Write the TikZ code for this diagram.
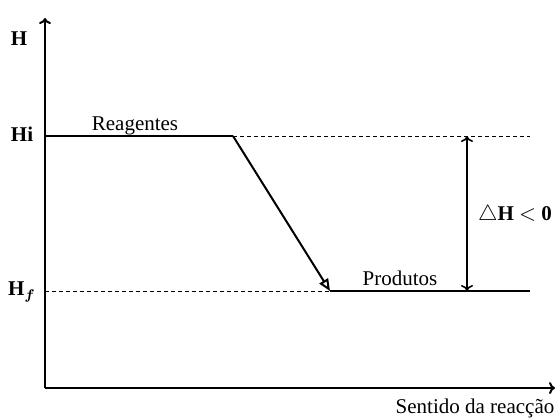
\documentclass[tikz,border=0pt]{standalone}
\usepackage{fontspec}
\setmainfont{Liberation Serif}
\usepackage{amsmath, amssymb}
\usetikzlibrary{arrows.meta, positioning}

\begin{document}
\begin{tikzpicture}[
  x=0.5pt, y=-0.5pt,
  axis/.style={line width=0.8pt, -{To[length=3pt, width=6pt, line width=1pt]}},
  level/.style={line width=1.1pt},
  guide/.style={line width=0.4pt, dash pattern=on 2pt off 1.5pt},
  lbl/.style={font=\fontsize{10.5}{12}\selectfont},
  blbl/.style={font=\fontsize{10.5}{12}\selectfont\bfseries}
]
  \useasboundingbox (0,0) rectangle (560,419);

  % Axes
  \coordinate (origin) at (45,388);
  \coordinate (ytop) at (45,18);
  \coordinate (xend) at (555,388);
  \draw[axis] (origin) -- (ytop);
  \draw[axis] (origin) -- (xend);
  \node[blbl] (hlab) at (19,39) {H};
  \node[lbl] (sentido) at (475,408) {Sentido da reacção};

  % Levels
  \coordinate (hi0) at (45,136);
  \coordinate (hi1) at (233,136);
  \coordinate (hi2) at (530,136);
  \coordinate (hf0) at (45,291);
  \coordinate (hf1) at (330,291);
  \coordinate (hf2) at (530,291);
  \draw[level] (hi0) -- (hi1);
  \draw[level] (hf1) -- (hf2);
  \draw[guide] (hi1) -- (hi2);
  \draw[guide] (hf0) -- (hf1);
  \draw[line width=1pt, -{Triangle[open, length=6pt, width=5pt]}] (hi1) -- (hf1);

  \node[blbl] (hi) at (22,134) {Hi};
  \node[blbl] (hf) at (22,292) {H$_{\boldsymbol{f}}$};
  \node[lbl] (reag) at (135,126) {Reagentes};
  \node[lbl] (prod) at (400,278) {Produtos};

  % Delta H
  \coordinate (dtop) at (467,136);
  \coordinate (dbot) at (467,291);
  \draw[line width=0.8pt, {To[length=3pt, width=6pt]}-{To[length=3pt, width=6pt]}] (dtop) -- (dbot);
  \node[blbl, anchor=west] (dh) at (471,215) {$\triangle$H $<$ 0};
\end{tikzpicture}
\end{document}
